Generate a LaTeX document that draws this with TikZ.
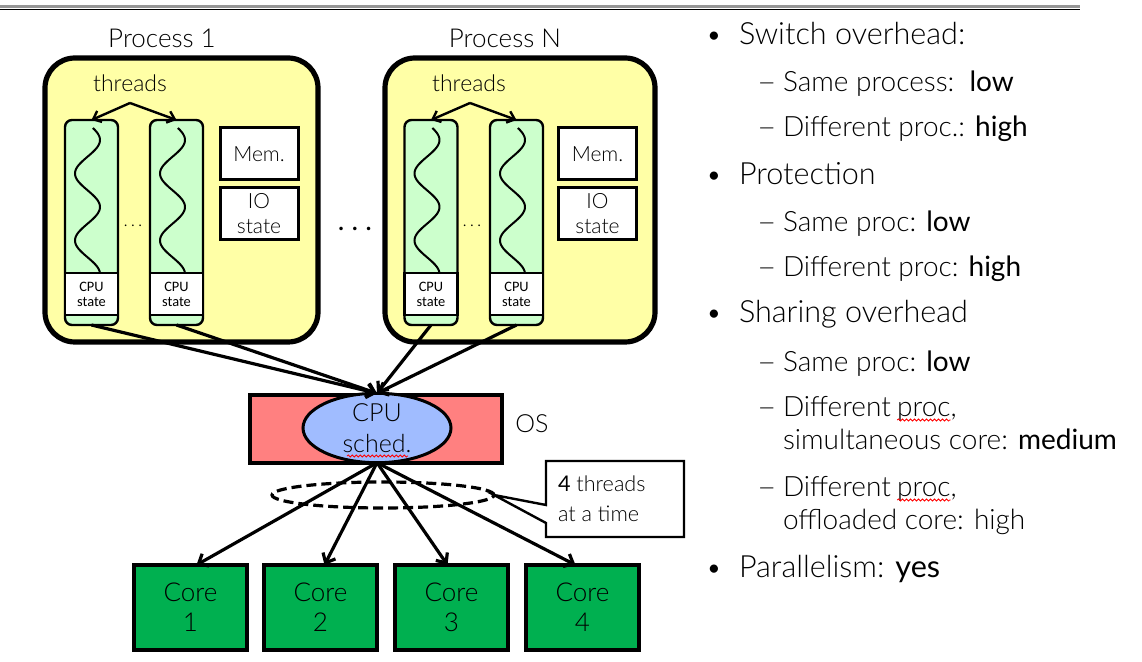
\documentclass[tikz,border=0pt]{standalone}
\usepackage{fontspec}
\usepackage{graphicx}
\setmainfont{Lato}[UprightFont={* Light}, BoldFont={*}]
\newfontfamily\calfont{Carlito}
\usetikzlibrary{shapes.geometric, arrows.meta, decorations.pathmorphing}

\definecolor{procfill}{RGB}{255,255,166}
\definecolor{thrfill}{RGB}{204,255,204}
\definecolor{corefill}{RGB}{0,176,80}
\definecolor{osfill}{RGB}{255,128,128}
\definecolor{schedfill}{RGB}{160,188,255}
\definecolor{rulegray}{RGB}{150,150,150}

% one wavy thread line inside a thread column, centred at x = #1
\newcommand\thrwave[1]{%
  \draw[line width=1pt] plot[domain=128:273, samples=90, smooth, variable=\yy]
    ({#1+12.5*sin((\yy-140)*5.3731+90)}, \yy);}
% a slightly wider dash for the sub-items
\newcommand\subdash{\scalebox{1.2}[1]{–}}

\begin{document}
\begin{tikzpicture}[x=0.5pt, y=-0.5pt,
  every node/.style={inner sep=0pt, outer sep=0pt},
  procbox/.style={draw, line width=2.6pt, rounded corners=15pt, fill=procfill,
    minimum width=#1, minimum height=142pt},
  thrcol/.style={draw, line width=1.2pt, rounded corners=3.5pt, fill=thrfill,
    minimum width=26.5pt, minimum height=102.5pt},
  cpust/.style={draw, line width=1.2pt, fill=white, minimum width=26.5pt,
    minimum height=21pt, align=center, font=\calfont\fontsize{7.2}{7.6}\selectfont},
  membox/.style={draw, line width=1.5pt, fill=white, minimum width=39pt,
    minimum height=26pt, align=center, font=\fontsize{10.5}{12.5}\selectfont},
  corebox/.style={draw, line width=1.6pt, fill=corefill, minimum width=56.5pt,
    minimum height=42.5pt, align=center, font=\fontsize{13}{15}\selectfont},
  lbl/.style={anchor=base, font=\fontsize{13}{15}\selectfont},
  thrlbl/.style={anchor=base, font=\fontsize{11.5}{14}\selectfont},
  link/.style={line width=1.6pt, -{Straight Barb[length=4pt, width=7pt]}},
  thin link/.style={line width=1.2pt, -{Straight Barb[length=3.5pt, width=6pt]}},
  txt/.style={anchor=base west, font=\fontsize{14}{17}\selectfont},
  toptxt/.style={anchor=base west, font=\fontsize{15.3}{18}\selectfont},
  bul/.style={anchor=base, font=\fontsize{14}{17}\selectfont},
  squig/.style={draw=red, line width=0.4pt,
    decorate, decoration={snake, amplitude=0.5pt, segment length=2pt}}]

\useasboundingbox (0,0) rectangle (1142,662);

% double rule along the top
\draw[rulegray, line width=1.5pt] (0,6.5) -- (1080,6.5);
\draw[black, line width=0.6pt] (0,9.3) -- (1080,9.3);

% ---------- Process 1 ----------
\node[lbl] (p1lbl) at (162,48) {Process 1};
\node[procbox=136.5pt] (p1) at (181.5,200) {};
\node[thrlbl] (th1) at (130,92) {threads};
\coordinate (ap1) at (130,103);
\node[thrcol] (c11) at (91.5,222.5) {};
\node[thrcol] (c12) at (176.5,222.5) {};
\thrwave{87.5}
\thrwave{172.5}
\node[cpust] (s11) at (91.5,294) {CPU\\state};
\node[cpust] (s12) at (176.5,294) {CPU\\state};
\node[membox] (m1) at (259,154) {Mem.};
\node[membox] (io1) at (259,214) {IO\\state};
\node[font=\fontsize{9}{10}\selectfont] (d1) at (133,226) {.\,.\,.};
\draw[thin link] (ap1) -- (c11.north);
\draw[thin link] (ap1) -- (c12.north);

% ---------- Process N ----------
\node[lbl] (pNlbl) at (505,48) {Process N};
\node[procbox=135pt] (pN) at (520,200) {};
\node[thrlbl] (thN) at (469,92) {threads};
\coordinate (apN) at (470,103);
\node[thrcol] (cN1) at (431,222.5) {};
\node[thrcol] (cN2) at (516.5,222.5) {};
\thrwave{427}
\thrwave{512.5}
\node[cpust] (sN1) at (431,294) {CPU\\state};
\node[cpust] (sN2) at (516.5,294) {CPU\\state};
\node[membox] (mN) at (597.5,154) {Mem.};
\node[membox] (ioN) at (597.5,214) {IO\\state};
\node[font=\fontsize{9}{10}\selectfont] (dN) at (472,226) {.\,.\,.};
\draw[thin link] (apN) -- (cN1.north);
\draw[thin link] (apN) -- (cN2.north);

% dots between the processes
\node[font=\bfseries\fontsize{14}{16}\selectfont] (dots) at (355,229) {.\ .\ .};

% ---------- OS and scheduler ----------
\node[draw, line width=1.6pt, fill=osfill, minimum width=126pt, minimum height=34pt] (os) at (376,429) {};
\node[ellipse, draw, line width=1.5pt, fill=schedfill, minimum width=74pt, minimum height=32pt,
  align=center, font=\fontsize{12.5}{15.5}\selectfont] (sched) at (377,428) {CPU\\sched.};
\node[anchor=base, font=\fontsize{12.5}{15}\selectfont] (oslbl) at (532,433) {OS};
\draw[squig] (347,456) -- (408,456);

% threads handed to the scheduler
\draw[link] (c11.south) -- (sched.north);
\draw[link] (c12.south) -- (sched.north);
\draw[link] (cN1.south) -- (sched.north);
\draw[link] (cN2.south) -- (sched.north);

% ---------- cores ----------
\node[corebox] (core1) at (190.5,607.5) {Core\\1};
\node[corebox] (core2) at (320.5,607.5) {Core\\2};
\node[corebox] (core3) at (451.5,607.5) {Core\\3};
\node[corebox] (core4) at (582.5,607.5) {Core\\4};

\node[ellipse, draw, dashed, dash pattern=on 5pt off 2.5pt, line width=1.6pt,
  minimum width=111pt, minimum height=13pt] (grp) at (383,495) {};

\draw[link] (sched.south) -- ([xshift=3pt]core1.north);
\draw[link] (sched.south) -- ([xshift=2pt]core2.north);
\draw[link] (sched.south) -- ([xshift=-2pt]core3.north);
\draw[link] (sched.south) -- ([xshift=-3.5pt]core4.north);

% callout
\draw[line width=1.2pt, fill=white, line join=miter]
  (546,461) -- (684,461) -- (684,537) -- (546,537) -- (546,523) -- (grp.east) -- (546,505) -- cycle;
\node[anchor=base west, font=\fontsize{10.8}{15}\selectfont] (ct1) at (558,492) {\textbf{4} threads};
\node[anchor=base west, font=\fontsize{10.8}{15}\selectfont] (ct2) at (558,522) {at a time};

% ---------- list on the right ----------
\node[bul] at (714,45) {•};
\node[toptxt] at (739,45) {Switch overhead:};
\node[txt] at (757,92) {\subdash};
\node[txt] at (783,92) {Same process:\ \ \textbf{low}};
\node[txt] at (757,137) {\subdash};
\node[txt] at (783,137) {Different proc.: \textbf{high}};

\node[bul] at (714,185) {•};
\node[toptxt] at (739,185) {Protection};
\node[txt] at (757,232) {\subdash};
\node[txt] at (783,232) {Same proc: \textbf{low}};
\node[txt] at (757,277) {\subdash};
\node[txt] at (783,277) {Different proc: \textbf{high}};

\node[bul] at (714,323) {•};
\node[toptxt] at (739,323) {Sharing overhead};
\node[txt] at (757,372) {\subdash};
\node[txt] at (783,372) {Same proc: \textbf{low}};
\node[txt] at (757,417) {\subdash};
\node[txt] (df1) at (783,417) {Different};
\node[txt] (pr1) at ([xshift=3.2pt]df1.base east) {proc};
\node[txt] at (pr1.base east) {,};
\draw[squig] ([yshift=-1.5pt]pr1.base west) -- ([yshift=-1.5pt]pr1.base east);
\node[txt] at (783,450) {simultaneous core: \textbf{medium}};
\node[txt] at (757,497) {\subdash};
\node[txt] (df2) at (783,497) {Different};
\node[txt] (pr2) at ([xshift=3.2pt]df2.base east) {proc};
\node[txt] at (pr2.base east) {,};
\draw[squig] ([yshift=-1.5pt]pr2.base west) -- ([yshift=-1.5pt]pr2.base east);
\node[txt] at (783,530) {offloaded core: high};

\node[bul] at (714,578) {•};
\node[toptxt] at (739,578) {Parallelism: \textbf{yes}};
\end{tikzpicture}
\end{document}
